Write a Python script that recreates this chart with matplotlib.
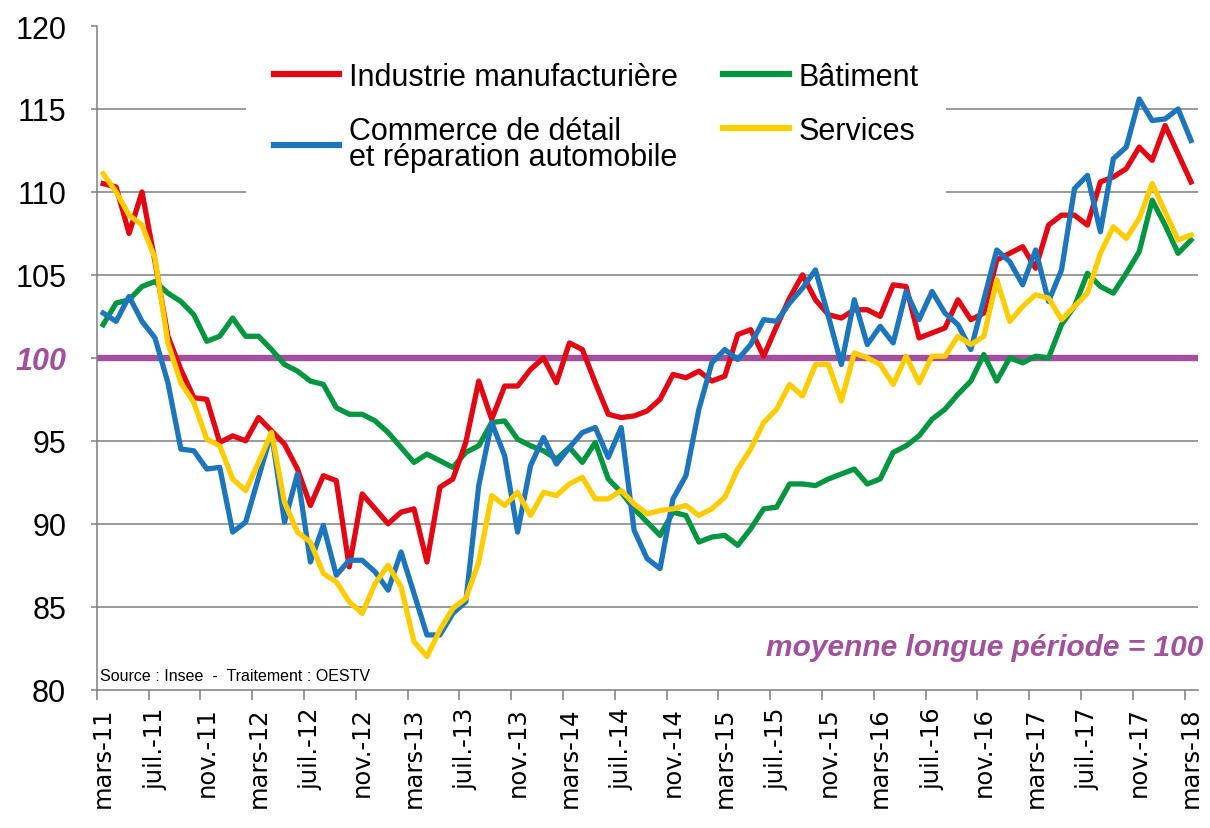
import numpy as np
import matplotlib.pyplot as plt

# monthly values, mars-11 .. mars-18 (long-term average = 100)
industrie = [
    110.5, 110.3, 107.5, 110.0, 105.8, 101.3, 99.3, 97.6, 97.5, 94.9,
    95.3, 95.0, 96.4, 95.6, 94.8, 93.3, 91.1, 92.9, 92.6, 87.4,
    91.8, 90.9, 90.0, 90.7, 90.9, 87.7, 92.2, 92.7, 94.9, 98.6,
    96.3, 98.3, 98.3, 99.3, 100.0, 98.5, 100.9, 100.5, 98.5, 96.6,
    96.4, 96.5, 96.8, 97.5, 99.0, 98.8, 99.2, 98.6, 98.9, 101.4,
    101.7, 100.1, 101.9, 103.6, 105.0, 103.5, 102.6, 102.4, 102.9, 102.9,
    102.5, 104.4, 104.3, 101.2, 101.5, 101.8, 103.5, 102.3, 102.7, 105.9,
    106.3, 106.7, 105.4, 108.0, 108.6, 108.6, 108.0, 110.6, 110.9, 111.4,
    112.7, 111.9, 114.0, 112.3, 110.6]

batiment = [
    102.0, 103.3, 103.5, 104.3, 104.6, 103.9, 103.4, 102.6, 101.0, 101.3,
    102.4, 101.3, 101.3, 100.5, 99.6, 99.2, 98.6, 98.4, 97.0, 96.6,
    96.6, 96.2, 95.5, 94.6, 93.7, 94.2, 93.8, 93.4, 94.3, 94.7,
    96.1, 96.2, 95.1, 94.7, 94.4, 93.9, 94.6, 93.7, 94.9, 92.7,
    91.9, 90.9, 90.1, 89.3, 90.7, 90.5, 88.9, 89.2, 89.3, 88.7,
    89.7, 90.9, 91.0, 92.4, 92.4, 92.3, 92.7, 93.0, 93.3, 92.4,
    92.7, 94.3, 94.7, 95.3, 96.3, 96.9, 97.8, 98.6, 100.2, 98.6,
    100.0, 99.7, 100.1, 100.0, 102.0, 103.1, 105.1, 104.3, 103.9, 105.1,
    106.4, 109.5, 108.0, 106.3, 107.1]

commerce = [
    102.7, 102.2, 103.7, 102.2, 101.2, 98.5, 94.5, 94.4, 93.3, 93.4,
    89.5, 90.1, 92.8, 95.5, 90.1, 93.0, 87.7, 89.9, 86.9, 87.8,
    87.8, 87.1, 86.0, 88.3, 85.8, 83.3, 83.3, 84.6, 85.3, 92.3,
    96.1, 94.1, 89.5, 93.5, 95.2, 93.6, 94.6, 95.5, 95.8, 94.0,
    95.8, 89.6, 87.9, 87.3, 91.5, 92.9, 96.9, 99.7, 100.5, 99.9,
    100.8, 102.3, 102.2, 103.3, 104.2, 105.3, 102.5, 99.6, 103.5, 100.8,
    101.9, 100.9, 104.0, 102.3, 104.0, 102.7, 102.0, 100.5, 103.5, 106.5,
    105.8, 104.4, 106.5, 103.4, 105.3, 110.2, 111.0, 107.6, 112.0, 112.7,
    115.6, 114.3, 114.4, 115.0, 113.1]

services = [
    111.1, 110.0, 108.6, 108.0, 106.0, 100.9, 98.5, 97.3, 95.1, 94.7,
    92.7, 92.0, 93.7, 95.5, 91.3, 89.5, 88.9, 87.0, 86.5, 85.3,
    84.6, 86.4, 87.5, 86.2, 82.9, 82.0, 83.6, 84.9, 85.5, 87.7,
    91.7, 91.1, 91.9, 90.5, 91.9, 91.7, 92.4, 92.8, 91.5, 91.5,
    92.0, 91.2, 90.6, 90.8, 90.9, 91.1, 90.5, 90.9, 91.6, 93.3,
    94.5, 96.1, 96.9, 98.4, 97.7, 99.6, 99.6, 97.4, 100.3, 100.0,
    99.6, 98.4, 100.1, 98.5, 100.1, 100.1, 101.3, 100.8, 101.3, 104.7,
    102.2, 103.1, 103.8, 103.6, 102.3, 103.1, 103.9, 106.3, 107.9, 107.2,
    108.4, 110.5, 108.8, 107.1, 107.4]

tick_labels = ['mars-11', 'juil.-11', 'nov.-11', 'mars-12', 'juil.-12', 'nov.-12',
               'mars-13', 'juil.-13', 'nov.-13', 'mars-14', 'juil.-14', 'nov.-14',
               'mars-15', 'juil.-15', 'nov.-15', 'mars-16', 'juil.-16', 'nov.-16',
               'mars-17', 'juil.-17', 'nov.-17', 'mars-18']
y_ticks = [80, 85, 90, 95, 100, 105, 110, 115, 120]
grid_levels = [85, 90, 95, 105, 110, 115]

RED = '#E30613'
GREEN = '#009640'
BLUE = '#1D76BC'
YELLOW = '#FFCC00'
PURPLE = '#A0509C'
GREY = '#7F7F7F'

plt.rcParams['font.family'] = ['Liberation Sans', 'DejaVu Sans']

W, H = 1210, 829
fig = plt.figure(figsize=(W / 100, H / 100), dpi=100)
ax = fig.add_axes([96.7 / W, 1 - 690.7 / H, (1197.5 - 96.7) / W, (690.7 - 27) / H])

x = np.arange(len(industrie))

for g in grid_levels:
    ax.axhline(g, color=GREY, lw=1.1, zorder=1)
ax.axhline(100, color=PURPLE, lw=4.6, zorder=2)

lw = 3.8
l_bat, = ax.plot(x, batiment, color=GREEN, lw=lw, zorder=3, label='Bâtiment')
l_ind, = ax.plot(x, industrie, color=RED, lw=lw, zorder=4, label='Industrie manufacturière')
l_com, = ax.plot(x, commerce, color=BLUE, lw=lw, zorder=5,
                 label='Commerce de détail\net réparation automobile')
l_ser, = ax.plot(x, services, color=YELLOW, lw=lw, zorder=6, label='Services')

ax.set_xlim(-0.5, 84.5)
ax.set_ylim(80, 120)

# labels at category centre, tick marks between categories
ax.set_xticks(x[::4])
ax.set_xticklabels(tick_labels, rotation=90, fontsize=17.5, family='DejaVu Sans')
ax.set_xticks(x[::4] - 0.5, minor=True)
ax.tick_params(axis='x', which='major', length=0, pad=12)
ax.tick_params(axis='x', which='minor', length=7, color=GREY, width=1.1, direction='out')

ax.set_yticks(y_ticks)
ylabs = ax.set_yticklabels([str(v) for v in y_ticks], fontsize=22)
ax.tick_params(axis='y', length=4, color=GREY, width=1.1, pad=18)
ylabs[4].set_color(PURPLE)
ylabs[4].set_fontweight('bold')
ylabs[4].set_fontstyle('italic')

for s in ['top', 'right']:
    ax.spines[s].set_visible(False)
for s in ['left', 'bottom']:
    ax.spines[s].set_color(GREY)
    ax.spines[s].set_linewidth(1.1)

leg = ax.legend(handles=[l_ind, l_com, l_bat, l_ser], ncol=2, fontsize=22,
                loc='upper left', bbox_to_anchor=(231 / W, 1 - 20 / H),
                bbox_transform=fig.transFigure, frameon=True, facecolor='white',
                edgecolor='none', framealpha=1, fancybox=False, borderpad=0.9,
                handlelength=2.15, handletextpad=0.3, columnspacing=1.5,
                labelspacing=0.78)
leg.set_zorder(10)
for t in leg.get_texts():
    t.set_linespacing(0.85)
for h in leg.get_lines():
    h.set_linewidth(4.5)

ax.text(0.003, 0.022, 'Source : Insee  -  Traitement : OESTV', transform=ax.transAxes,
        fontsize=11.5, va='center', ha='left', zorder=11)
fig.text(1203 / W, 1 - 648 / H, 'moyenne longue période = 100', color=PURPLE,
         fontsize=21.5, fontweight='bold', fontstyle='italic', ha='right', va='center')

fig.savefig('out.png', dpi=100)
